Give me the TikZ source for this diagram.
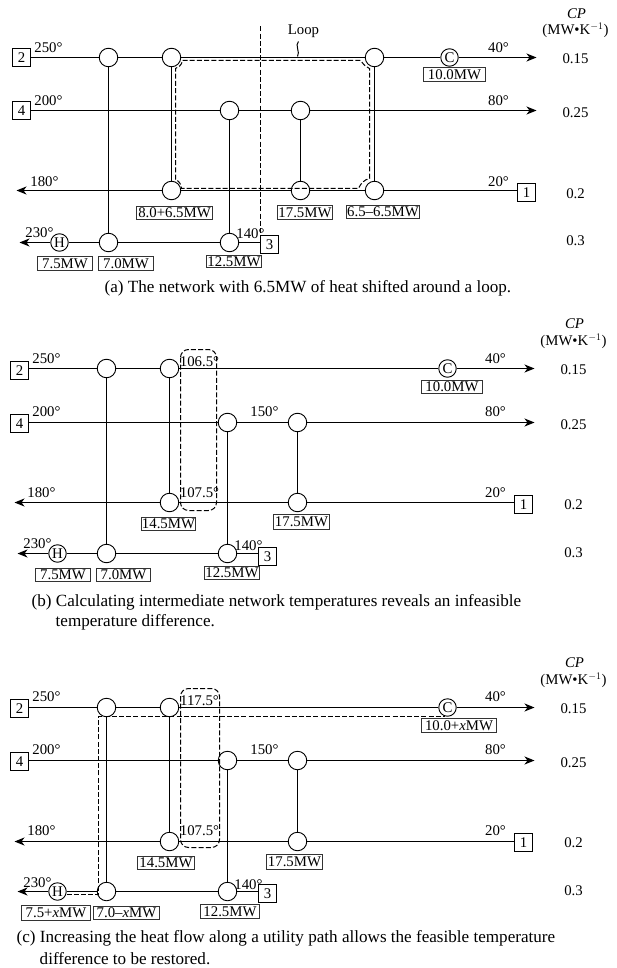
\documentclass[tikz,border=0pt]{standalone}
\usepackage{fontspec}
\setmainfont{Liberation Serif}
\usetikzlibrary{arrows.meta}
\tikzset{
  x=1pt,y=-1pt,
  every node/.style={font=\fontsize{14.8}{16}\selectfont,inner sep=0pt},
  strline/.style={line width=1pt,black},
  flow/.style={strline,-{Stealth[length=10pt,width=8pt,inset=3pt]}},
  hx/.style={circle,draw,line width=0.9pt,fill=white,minimum size=18.5pt},
  util/.style={circle,draw,line width=0.9pt,fill=white,minimum size=17.5pt},
  strm/.style={rectangle,draw,line width=0.9pt,fill=white,minimum size=18.5pt},
  dutybox/.style={rectangle,draw=black!80,line width=0.9pt,fill=white},
  dashln/.style={line width=1pt,dash pattern=on 5pt off 2.2pt},
  capt/.style={font=\fontsize{17.1}{20}\selectfont,anchor=west},
}
\newcommand{\duty}[6]{%
  \node[dutybox,minimum width=#4pt-#2pt,minimum height=#5pt-#3pt] (#1) at ({(#2+#4)/2},{(#3+#5)/2}) {#6};}
\newcommand{\cpcol}[7]{%
  \node (#1cp) at (#7+1,#2) {\textit{CP}};
  \node (#1un) at (#7,#3) {(MW•K$^{-1}$)};
  \node (#1p) at (#7,#4) {0.15};
  \node (#1q) at (#7,#5) {0.25};
  \node (#1r) at (#7,#6) {0.2};}
\begin{document}
\begin{tikzpicture}
\useasboundingbox[fill=white] (0,0) rectangle (616,968);
\begin{scope}[shift={(0.5,0.5)}]
% ===== panel a
\node[strm] (a2) at (21,57) {2};
\node[strm] (a4) at (21,110) {4};
\node[strm] (a1) at (526,192) {1};
\node[strm] (a3) at (269,244) {3};
\coordinate (aE2) at (536,57);
\coordinate (aE4) at (536,110);
\coordinate (aE1) at (16,190);
\coordinate (aE3) at (19,242);
\node[hx] (aA) at (108,57) {};
\node[hx] (aB) at (171,57) {};
\node[hx] (aG) at (374,57) {};
\node[util] (aC) at (449,57) {C};
\node[hx] (aD) at (229,110) {};
\node[hx] (aF) at (300,110) {};
\node[hx] (aBb) at (171,190) {};
\node[hx] (aFb) at (300,190) {};
\node[hx] (aGb) at (374,190) {};
\node[hx] (aAb) at (108,242) {};
\node[hx] (aDb) at (229,242) {};
\node[util] (aH) at (59,242) {H};
\draw[strline] (a2)--(aA)--(aB)--(aG)--(aC);
\draw[flow] (aC)--(aE2);
\draw[strline] (a4)--(aD)--(aF);
\draw[flow] (aF)--(aE4);
\draw[strline] (a1.west |- aGb)--(aGb)--(aFb)--(aBb);
\draw[flow] (aBb)--(aE1);
\draw[strline] (a3.west |- aDb)--(aDb)--(aAb)--(aH);
\draw[flow] (aH)--(aE3);
\draw[strline] (aA)--(aAb);
\draw[strline] (aB)--(aBb);
\draw[strline] (aD)--(aDb);
\draw[strline] (aF)--(aFb);
\draw[strline] (aG)--(aGb);
\coordinate (aV1) at (260,26); \coordinate (aV2) at (260,235);
\draw[dashln] (aV1)--(aV2);
\draw[dashln] (182,60)--(360,60) .. controls (364,65) and (366,67) .. (369,68)--(369,178)
  .. controls (364,179) and (360,183) .. (358,188)--(181,188)
  .. controls (181,184) and (178,180) .. (175,179)--(175,68)
  .. controls (178,67) and (181,65) .. (182,60);
\node (aloop) at (303,31) {Loop};
\coordinate (aS1) at (298,41); \coordinate (aS2) at (297,56);
\draw[line width=1pt] (aS1) .. controls (294,44) and (300,52) .. (aS2);
\node (at1) at (48,47) {250°}; \node (at2) at (48,100) {200°};
\node (at3) at (44,181) {180°}; \node (at4) at (39,232) {230°};
\node (at5) at (250,233) {140°}; \node (at6) at (498,47) {40°};
\node (at7) at (498,100) {80°}; \node (at8) at (498,181) {20°};
\cpcol{a}{13}{30}{58}{112}{193}{575}
\node (as) at (575,240) {0.3};
\duty{ad1}{136}{206}{212}{219}{8.0+6.5MW}
\duty{ad2}{37}{256}{92}{270}{7.5MW}
\duty{ad3}{98}{256}{153}{270}{7.0MW}
\duty{ad4}{206}{255}{261}{267}{12.5MW}
\duty{ad5}{277}{205}{332}{219}{17.5MW}
\duty{ad6}{346}{205}{419}{218}{6.5–6.5MW}
\duty{ad7}{423}{67}{485}{81}{10.0MW}
\node[capt] (acap) at (104,288) {(a) The network with 6.5MW of heat shifted around a loop.};
% ===== panel b
\node[strm] (b2) at (19,370) {2};
\node[strm] (b4) at (19,423) {4};
\node[strm] (b1) at (523,504) {1};
\node[strm] (b3) at (267,556) {3};
\coordinate (bE2) at (534,368);
\coordinate (bE4) at (534,422);
\coordinate (bE1) at (14,502);
\coordinate (bE3) at (17,553);
\node[hx] (bA) at (106,368) {};
\node[hx] (bB) at (169,368) {};
\node[util] (bC) at (447,368) {C};
\node[hx] (bD) at (227,422) {};
\node[hx] (bF) at (297,422) {};
\node[hx] (bBb) at (169,502) {};
\node[hx] (bFb) at (297,502) {};
\node[hx] (bAb) at (106,553) {};
\node[hx] (bDb) at (227,553) {};
\node[util] (bH) at (57,553) {H};
\draw[strline] (b2.east |- bA)--(bA)--(bB)--(bC);
\draw[flow] (bC)--(bE2);
\draw[strline] (b4.east |- bD)--(bD)--(bF);
\draw[flow] (bF)--(bE4);
\draw[strline] (b1.west |- bFb)--(bFb)--(bBb);
\draw[flow] (bBb)--(bE1);
\draw[strline] (b3.west |- bDb)--(bDb)--(bAb)--(bH);
\draw[flow] (bH)--(bE3);
\draw[strline] (bA)--(bAb);
\draw[strline] (bB)--(bBb);
\draw[strline] (bD)--(bDb);
\draw[strline] (bF)--(bFb);
\draw[dashln,rounded corners=8pt] (180,349) rectangle (216,510);
\node (bt1) at (46,358) {250°}; \node (bt2) at (46,411) {200°};
\node (bt3) at (41,492) {180°}; \node (bt4) at (37,543) {230°};
\node (bt5) at (248,545) {140°}; \node (bt6) at (495,358) {40°};
\node (bt7) at (495,411) {80°}; \node (bt8) at (495,492) {20°};
\node (bt9) at (264,411) {150°};
\node (bt10) at (199,361) {106.5°}; \node (bt11) at (199,492) {107.5°};
\cpcol{b}{323}{341}{369}{424}{504}{573}
\node (bs) at (573,552) {0.3};
\duty{bd1}{141}{517}{195}{530}{14.5MW}
\duty{bd2}{35}{568}{90}{581}{7.5MW}
\duty{bd3}{96}{568}{150}{581}{7.0MW}
\duty{bd4}{204}{566}{259}{579}{12.5MW}
\duty{bd5}{273}{514}{329}{529}{17.5MW}
\duty{bd7}{421}{380}{482}{393}{10.0MW}
\node[capt] (bcap1) at (31,602) {(b) Calculating intermediate network temperatures reveals an infeasible};
\node[capt] (bcap2) at (55,622) {temperature difference.};
% ===== panel c
\node[strm] (c2) at (19,708) {2};
\node[strm] (c4) at (19,761) {4};
\node[strm] (c1) at (523,842) {1};
\node[strm] (c3) at (267,893) {3};
\coordinate (cE2) at (534,707);
\coordinate (cE4) at (534,760);
\coordinate (cE1) at (14,841);
\coordinate (cE3) at (17,891);
\node[hx] (cA) at (106,707) {};
\node[hx] (cB) at (169,707) {};
\node[util] (cC) at (447,707) {C};
\node[hx] (cD) at (227,760) {};
\node[hx] (cF) at (297,760) {};
\node[hx] (cBb) at (169,841) {};
\node[hx] (cFb) at (297,841) {};
\node[hx] (cAb) at (106,891) {};
\node[hx] (cDb) at (227,891) {};
\node[util] (cH) at (57,891) {H};
\draw[strline] (c2.east |- cA)--(cA)--(cB)--(cC);
\draw[flow] (cC)--(cE2);
\draw[strline] (c4.east |- cD)--(cD)--(cF);
\draw[flow] (cF)--(cE4);
\draw[strline] (c1.west |- cFb)--(cFb)--(cBb);
\draw[flow] (cBb)--(cE1);
\draw[strline] (c3.west |- cDb)--(cDb)--(cAb)--(cH);
\draw[flow] (cH)--(cE3);
\draw[strline] (cA)--(cAb);
\draw[strline] (cB)--(cBb);
\draw[strline] (cD)--(cDb);
\draw[strline] (cF)--(cFb);
\draw[dashln,rounded corners=8pt] (180,688) rectangle (219,847);
\coordinate (cL1) at (66,894); \coordinate (cL2) at (98,894);
\coordinate (cL3) at (98,716); \coordinate (cL4) at (444,716);
\draw[dashln] (cL1)--(cL2)--(cL3)--(cL4);
\node (ct1) at (46,696) {250°}; \node (ct2) at (46,749) {200°};
\node (ct3) at (41,830) {180°}; \node (ct4) at (37,882) {230°};
\node (ct5) at (248,884) {140°}; \node (ct6) at (495,696) {40°};
\node (ct7) at (495,749) {80°}; \node (ct8) at (495,830) {20°};
\node (ct9) at (264,749) {150°};
\node (ct10) at (199,700) {117.5°}; \node (ct11) at (199,830) {107.5°};
\cpcol{c}{662}{680}{708}{762}{842}{573}
\node (cs) at (573,890) {0.3};
\duty{cd1}{137}{856}{194}{869}{14.5MW}
\duty{cd2}{21}{905}{90}{920}{7.5+\textit{x}MW}
\duty{cd3}{93}{906}{159}{919}{7.0–\textit{x}MW}
\duty{cd4}{200}{904}{259}{918}{12.5MW}
\duty{cd5}{266}{854}{322}{869}{17.5MW}
\duty{cd7}{421}{718}{496}{732}{10.0+\textit{x}MW}
\node[capt] (ccap1) at (16,938) {(c) Increasing the heat flow along a utility path allows the feasible temperature};
\node[capt] (ccap2) at (39,958) {difference to be restored.};
\end{scope}
\end{tikzpicture}
\end{document}
